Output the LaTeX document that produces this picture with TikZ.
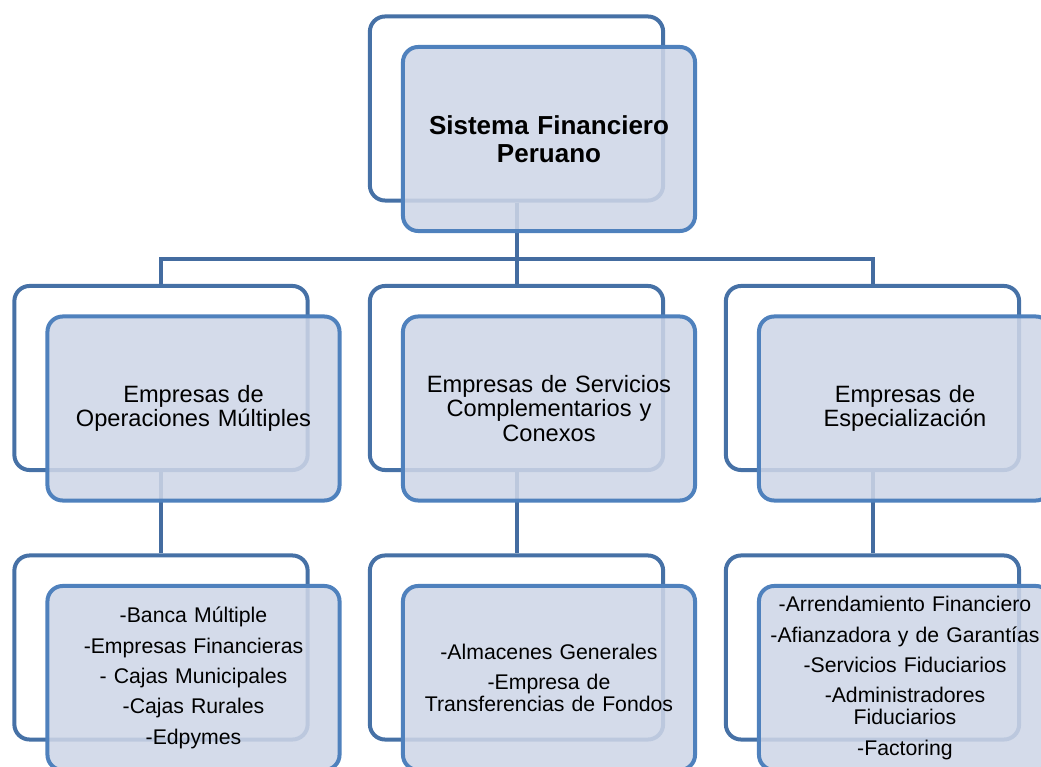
\documentclass[tikz,border=0pt]{standalone}
\usepackage{fontspec}
\setmainfont{Liberation Sans}
\usepackage{tikz}
\usetikzlibrary{positioning}
\definecolor{backline}{RGB}{70,113,166}
\definecolor{frontline}{RGB}{79,129,189}
\definecolor{frontfill}{RGB}{206,214,231}
\definecolor{linkblue}{RGB}{68,108,160}

\begin{document}
\begin{tikzpicture}[
  x=0.025cm, y=-0.025cm,
  back/.style  = {rectangle, rounded corners=0.38cm, minimum width=7.33cm,
                  minimum height=4.6cm, draw=backline, line width=0.1cm,
                  fill=white},
  front/.style = {rectangle, rounded corners=0.38cm, minimum width=7.3cm,
                  minimum height=4.6cm, draw=frontline, line width=0.1cm,
                  fill=frontfill, fill opacity=0.87, text opacity=1,
                  inner sep=2pt, text width=6.9cm, align=center},
  title/.style = {font=\bfseries\fontsize{18.5pt}{20pt}\selectfont},
  group/.style = {font=\fontsize{16.8pt}{17.2pt}\selectfont},
  items/.style = {font=\fontsize{15.1pt}{15.6pt}\selectfont},
  link/.style  = {linkblue, line width=0.1cm},
]
  \useasboundingbox (0,0) rectangle (1041,767);
  \clip (0,0) rectangle (1041,767);

  % back boxes
  \node[back] (sfb)  at (516.5,108.5) {};
  \node[back] (eomb) at (161,378) {};
  \node[back] (escb) at (516.5,378) {};
  \node[back] (eeb)  at (872.5,378) {};
  \node[back] (bmb)  at (161,647.5) {};
  \node[back] (agb)  at (516.5,647.5) {};
  \node[back] (afb)  at (872.5,647.5) {};

  % connectors
  \draw[link] (sfb.south) -- ++(0,56) -| (eomb.north);
  \draw[link] (sfb.south) -- ++(0,56) -| (escb.north);
  \draw[link] (sfb.south) -- ++(0,56) -| (eeb.north);
  \draw[link] (eomb.south) -- (bmb.north);
  \draw[link] (escb.south) -- (agb.north);
  \draw[link] (eeb.south)  -- (afb.north);

  % front boxes
  \node[front, title] (sf)  at ([shift={(32.5,30.5)}]sfb)
    {Sistema Financiero\\Peruano};
  \node[front, group] (eom) at ([shift={(32.5,30.5)}]eomb)
    {Empresas de\\Operaciones Múltiples};
  \node[front, group] (esc) at ([shift={(32.5,30.5)}]escb)
    {Empresas de Servicios\\Complementarios y\\Conexos};
  \node[front, group] (ee)  at ([shift={(32.5,30.5)}]eeb)
    {Empresas de\\Especialización};
  \node[front, items] (bm)  at ([shift={(32.5,30.5)}]bmb)
    {-Banca Múltiple\\[6pt]-Empresas Financieras\\[6pt]- Cajas Municipales\\[6pt]-Cajas Rurales\\[6pt]-Edpymes};
  \node[front, items] (ag)  at ([shift={(32.5,30.5)}]agb)
    {-Almacenes Generales\\[6pt]-Empresa de\\Transferencias de Fondos};
  \node[front, items] (af)  at ([shift={(32.5,30.5)}]afb)
    {-Arrendamiento Financiero\\[6pt]-Afianzadora y de Garantías\\[6pt]-Servicios Fiduciarios\\[6pt]-Administradores\\Fiduciarios\\[6pt]-Factoring};
\end{tikzpicture}
\end{document}
